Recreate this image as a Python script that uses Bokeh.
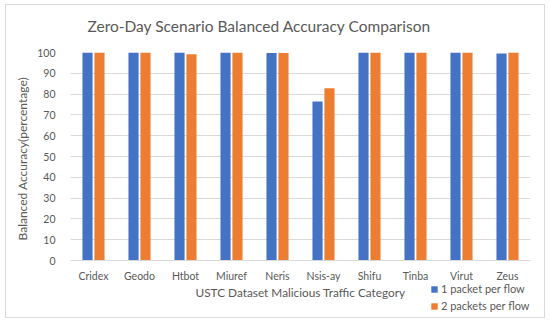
from bokeh.plotting import figure
from bokeh.models import Range1d, FactorRange, Legend, LegendItem, ColumnDataSource, Title, InlineStyleSheet
from bokeh.transform import dodge
from bokeh.embed import file_html
from bokeh.resources import INLINE

categories = ["Cridex", "Geodo", "Htbot", "Miuref", "Neris", "Nsis-ay", "Shifu", "Tinba", "Virut", "Zeus"]
one_packet = [100, 100, 100, 100, 99.8, 76.5, 100, 100, 100, 99.5]
two_packets = [100, 100, 99.2, 100, 99.8, 82.8, 100, 100, 100, 100]
y_ticks = [0, 10, 20, 30, 40, 50, 60, 70, 80, 90, 100]

src = ColumnDataSource(dict(cat=categories, one=one_packet, two=two_packets))

FONT = "Lato"
TXT = "#595959"

# frame spans page y 52..317; y=0 must sit at page y 260
W, H = 550, 323
TOP, BOT, ZERO = 52, 317, 260
LEFT, RIGHT = 70, 530
scale = (ZERO - TOP) / 100.0
y_start = -(BOT - ZERO) / scale

p = figure(width=W, height=H, x_range=FactorRange(*categories), y_range=Range1d(y_start, 100),
           output_backend="svg", toolbar_location=None,
           min_border_left=LEFT, min_border_right=W - RIGHT, min_border_bottom=H - BOT, min_border_top=TOP)

p.stylesheets = [InlineStyleSheet(css=":host { position: relative; } :host::after { content: ''; position: absolute; "
                                      "left: 5px; top: 4px; width: 538px; height: 312px; border: 1px solid #d9d9d9; "
                                      "pointer-events: none; }")]

r1 = p.vbar(x=dodge("cat", -0.13, range=p.x_range), top="one", width=0.22, source=src,
            fill_color="#4472C4", line_color=None)
r2 = p.vbar(x=dodge("cat", 0.13, range=p.x_range), top="two", width=0.22, source=src,
            fill_color="#ED7D31", line_color=None)

p.title.text = "Zero-Day Scenario Balanced Accuracy Comparison"
p.title.align = "left"
p.title.offset = 87 - LEFT
p.title.vertical_align = "top"
p.title.text_font = FONT
p.title.text_font_size = "15.5px"
p.title.text_font_style = "normal"
p.title.text_color = TXT
p.title.standoff = 31

p.outline_line_color = None
p.xgrid.grid_line_color = None
p.ygrid.grid_line_color = "#d9d9d9"
p.ygrid.ticker = y_ticks
p.yaxis.ticker = y_ticks

for ax in (p.xaxis, p.yaxis):
    ax.major_tick_line_color = None
    ax.minor_tick_line_color = None
    ax.major_label_text_font = FONT
    ax.major_label_text_font_size = "10.5px"
    ax.major_label_text_color = TXT
    ax.axis_label_text_font = FONT
    ax.axis_label_text_font_size = "11.8px"
    ax.axis_label_text_font_style = "normal"
    ax.axis_label_text_color = TXT
p.yaxis.axis_line_color = None
p.xaxis.axis_line_color = "#d9d9d9"
p.xaxis.fixed_location = 0
p.xaxis.axis_label = "USTC Dataset Malicious Traffic Category"
p.yaxis.major_label_standoff = 9
p.xaxis.major_label_standoff = 3
p.xaxis.axis_label_standoff = 0
p.x_range.range_padding = 0
p.x_range.group_padding = 0

ytitle = Title(text="Balanced Accuracy(percentage)", align="left", offset=BOT - 240,
               text_font=FONT, text_font_size="12px", text_font_style="normal", text_color=TXT)
p.add_layout(ytitle, "left")

legend = Legend(items=[LegendItem(label="1 packet per flow", renderers=[r1]),
                       LegendItem(label="2 packets per flow", renderers=[r2])],
                location=(430 - LEFT, 5), orientation="vertical")
legend.border_line_color = None
legend.background_fill_alpha = 0
legend.padding = 0
legend.margin = 0
legend.spacing = 4
legend.glyph_width = 8
legend.glyph_height = 8
legend.label_height = 8
legend.label_standoff = 3
legend.label_text_font = FONT
legend.label_text_font_size = "11px"
legend.label_text_color = TXT
p.add_layout(legend, "center")

open("out.html", "w").write(file_html(p, INLINE))
